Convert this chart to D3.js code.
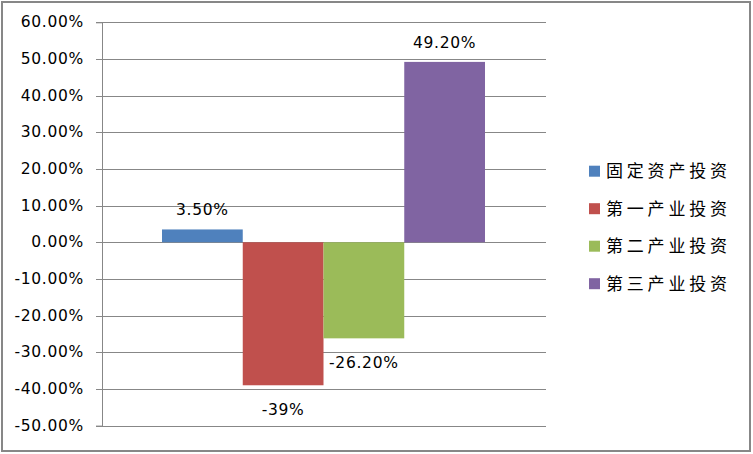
<!DOCTYPE html>
<html><head><meta charset="utf-8">
<script src="https://cdn.jsdelivr.net/npm/d3@7"></script>
<style>body{margin:0;background:#fff}svg{display:block}</style>
</head><body>
<svg id="c" width="753" height="454"></svg>
<script>
const series = ["固定资产投资","第一产业投资","第二产业投资","第三产业投资"];
const values = [3.5, -39, -26.2, 49.2];
const valueLabels = ["3.50%","-39%","-26.20%","49.20%"];
const colors = ["#4F81BD","#C0504D","#9BBB59","#8064A2"];
const yTicks = [60,50,40,30,20,10,0,-10,-20,-30,-40,-50];

(function(){
const svg = d3.select("#c");
svg.append("rect").attr("x",2).attr("y",2).attr("width",748).attr("height",449)
  .attr("fill","#fff").attr("stroke","#878787").attr("stroke-width",2);

const pLeft=102, pRight=546, pTop=22.3, pBottom=425.6;
const y = d3.scaleLinear().domain([-50,60]).range([pBottom,pTop]);
const x = d3.scaleBand().domain(series).range([162,485]).padding(0);

const yAxis = d3.axisLeft(y).tickValues(yTicks).tickSize(6).tickPadding(12)
  .tickFormat(d => d.toFixed(2) + "%");
const ga = svg.append("g").attr("transform",`translate(${pLeft},0)`).call(yAxis);
ga.select(".domain").attr("stroke","#878787");
ga.selectAll(".tick line").attr("stroke","#878787");
ga.selectAll(".tick text").attr("font-family","DejaVu Sans, Verdana, sans-serif")
  .attr("font-size","15.5px").attr("letter-spacing","0.7px").attr("fill","#000");

// gridlines
svg.append("g").selectAll("line").data(yTicks).join("line")
  .attr("x1",pLeft).attr("x2",pRight)
  .attr("y1",d=>Math.round(y(d))+0.5).attr("y2",d=>Math.round(y(d))+0.5)
  .attr("stroke","#878787").attr("stroke-width",1);
ga.selectAll(".tick").attr("transform", d => `translate(0,${Math.round(y(d))+0.5})`);

// bars
svg.append("g").selectAll("rect").data(values).join("rect")
  .attr("x",(d,i)=>x(series[i]))
  .attr("width",x.bandwidth())
  .attr("y",d=>y(Math.max(0,d)))
  .attr("height",d=>Math.abs(y(d)-y(0)))
  .attr("fill",(d,i)=>colors[i]);

// labels
svg.append("g").selectAll("text").data(values).join("text")
  .attr("x",(d,i)=>x(series[i])+x.bandwidth()/2)
  .attr("y",d=> d>=0 ? y(d)-14 : y(d)+30)
  .attr("text-anchor","middle")
  .attr("font-family","DejaVu Sans, Verdana, sans-serif")
  .attr("font-size","15.5px").attr("letter-spacing","0.7px").attr("fill","#000")
  .text((d,i)=>valueLabels[i]);

// legend
const lg = svg.append("g").selectAll("g").data(series).join("g")
  .attr("transform",(d,i)=>`translate(589,${170.7+i*37.5})`);
lg.append("rect").attr("x",0).attr("y",-5).attr("width",11).attr("height",11)
  .attr("fill",(d,i)=>colors[i]);
lg.append("text").attr("x",17).attr("y",6.5)
  .attr("font-family","Noto Sans CJK SC, sans-serif").attr("font-size","17px")
  .attr("letter-spacing","3.8px").attr("fill","#000").text(d=>d);
})();
</script>
</body></html>
